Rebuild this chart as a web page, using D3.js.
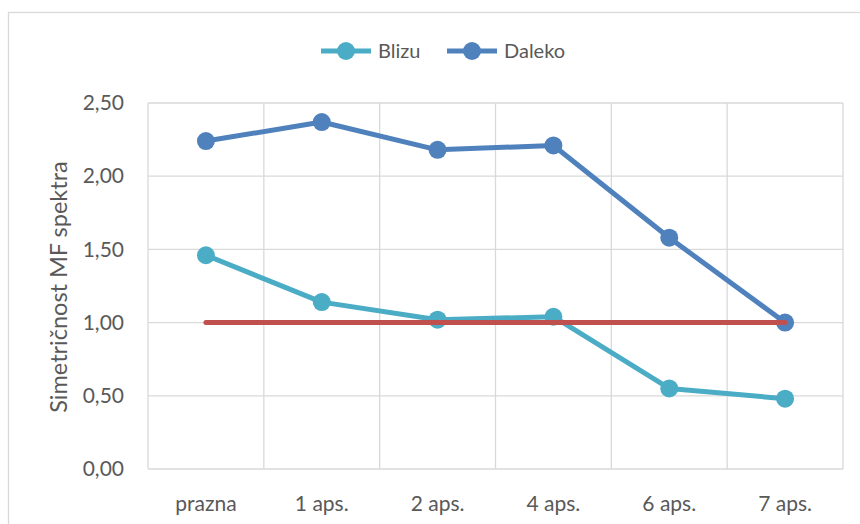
<!DOCTYPE html>
<html>
<head>
<meta charset="utf-8">
<script src="https://cdn.jsdelivr.net/npm/d3@7"></script>
<style>
  html, body { margin: 0; padding: 0; background: #fff; }
  svg { display: block; font-family: Lato, "Open Sans", "Liberation Sans", sans-serif; }
</style>
</head>
<body>
<svg id="chart" width="860" height="524"></svg>
<script>
// Categories and series
const categories = ["prazna", "1 aps.", "2 aps.", "4 aps.", "6 aps.", "7 aps."];
const blizu  = [1.46, 1.14, 1.02, 1.04, 0.55, 0.48];
const daleko = [2.24, 2.37, 2.18, 2.21, 1.58, 1.00];
const reference = [1.00, 1.00, 1.00, 1.00, 1.00, 1.00];
const yTicks = [0, 0.5, 1.0, 1.5, 2.0, 2.5];
const yLabel = "Simetričnost MF spektra";

const svg = d3.select("#chart");
const W = 860, H = 524;
const plot = { left: 148, right: 843, top: 103, bottom: 469 };
const textColor = "#595959";

// Outer chart frame
svg.append("rect")
  .attr("x", 8.5).attr("y", 12.5)
  .attr("width", W).attr("height", H)
  .attr("fill", "#fff").attr("stroke", "#d9d9d9").attr("stroke-width", 1.3);

const x = d3.scaleBand().domain(categories).range([plot.left, plot.right]);
const y = d3.scaleLinear().domain([0, 2.5]).range([plot.bottom, plot.top]);
const fmt = v => d3.format(".2f")(v).replace(".", ",");

// Horizontal gridlines
svg.append("g")
  .selectAll("line").data(yTicks).join("line")
  .attr("x1", plot.left).attr("x2", plot.right)
  .attr("y1", d => y(d)).attr("y2", d => y(d))
  .attr("stroke", "#d9d9d9").attr("stroke-width", 1.3);

// Vertical gridlines at category boundaries
const bounds = categories.map(c => x(c)).concat([plot.right]);
svg.append("g")
  .selectAll("line").data(bounds).join("line")
  .attr("x1", d => d).attr("x2", d => d)
  .attr("y1", plot.top).attr("y2", plot.bottom)
  .attr("stroke", "#d9d9d9").attr("stroke-width", 1.3);

// Y axis labels
const yAxis = d3.axisLeft(y).tickValues(yTicks).tickFormat(fmt).tickSize(0).tickPadding(24);
const gy = svg.append("g").attr("transform", `translate(${plot.left},0)`).call(yAxis);
gy.select(".domain").remove();
gy.selectAll("text").attr("font-size", 21).attr("fill", textColor)
  .attr("font-family", "Lato, 'Open Sans', sans-serif");

// X axis labels
const xAxis = d3.axisBottom(x).tickSize(0).tickPadding(27);
const gx = svg.append("g").attr("transform", `translate(0,${plot.bottom})`).call(xAxis);
gx.select(".domain").remove();
gx.selectAll("text").attr("font-size", 21).attr("fill", textColor)
  .attr("font-family", "Lato, 'Open Sans', sans-serif");

// Y axis title
svg.append("text")
  .attr("transform", `translate(67,287) rotate(-90)`)
  .attr("text-anchor", "middle")
  .attr("font-size", 23.5).attr("fill", textColor)
  .text(yLabel);

const cx = c => x(c) + x.bandwidth() / 2;
const line = d3.line().x((d, i) => cx(categories[i])).y(d => y(d));

function drawSeries(values, color, markers) {
  svg.append("path").datum(values)
    .attr("d", line).attr("fill", "none")
    .attr("stroke", color).attr("stroke-width", 5)
    .attr("stroke-linejoin", "round").attr("stroke-linecap", "round");
  if (markers) {
    svg.append("g").selectAll("circle").data(values).join("circle")
      .attr("cx", (d, i) => cx(categories[i])).attr("cy", d => y(d))
      .attr("r", 9).attr("fill", color);
  }
}

drawSeries(blizu, "#4bacc6", true);
drawSeries(daleko, "#4f81bd", true);
drawSeries(reference, "#c0504d", false);

// Legend
const legend = [
  { name: "Blizu", color: "#4bacc6", x: 321 },
  { name: "Daleko", color: "#4f81bd", x: 447 }
];
const lg = svg.append("g");
legend.forEach(l => {
  lg.append("line").attr("x1", l.x).attr("x2", l.x + 50)
    .attr("y1", 51).attr("y2", 51)
    .attr("stroke", l.color).attr("stroke-width", 5);
  lg.append("circle").attr("cx", l.x + 25).attr("cy", 51).attr("r", 9).attr("fill", l.color);
  lg.append("text").attr("x", l.x + 57).attr("y", 57.5)
    .attr("font-size", 20).attr("fill", textColor).text(l.name);
});
</script>
</body>
</html>
